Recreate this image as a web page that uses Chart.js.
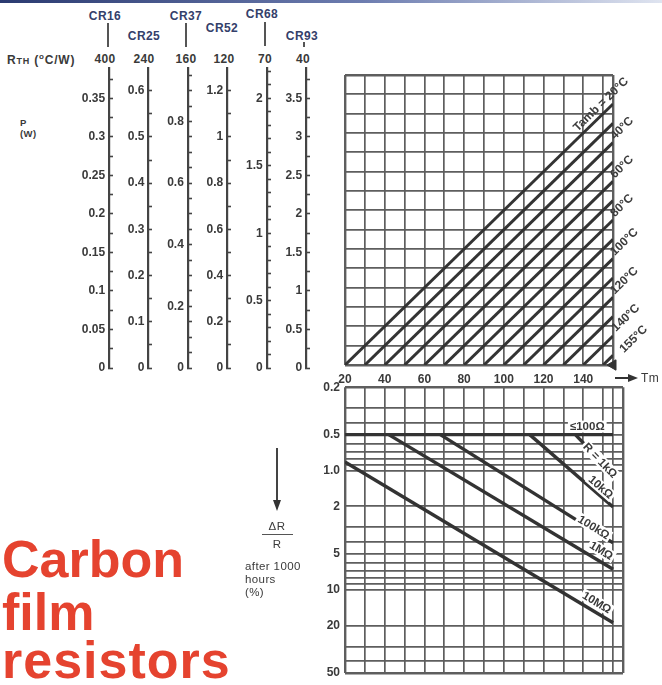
<!DOCTYPE html>
<html>
<head>
<meta charset="utf-8">
<script src="https://cdn.jsdelivr.net/npm/chart.js@4/dist/chart.umd.min.js"></script>
<style>
  body { margin: 0; background: #fff; }
  #page { position: relative; width: 662px; height: 685px; overflow: hidden; background: #fff;
          font-family: 'Liberation Sans', Arial, Helvetica, sans-serif; color: #3a3a3a; }
  canvas { position: absolute; }
  .t { position: absolute; font-weight: bold; font-size: 12px; line-height: 1; white-space: nowrap; letter-spacing: 0.4px; }
  .c { transform: translateX(-50%); }
  .cr { color: #34406a; }
  .vl { position: absolute; width: 1.5px; background: #555; }
  .big { position: absolute; left: 2px; color: #e5432f; font-weight: bold; font-size: 52px; line-height: 1; }
  .n { font-weight: normal; font-size: 11.5px; letter-spacing: 0.4px; }
</style>
</head>
<body>
<div id="page">
  <div style="position:absolute;left:0;top:0;width:662px;height:3px;background:linear-gradient(to right,#2a3a70,#6d7db0 55%,#dfe4f0)"></div>

  <!-- resistor types and thermal resistance -->
  <div class="t c cr" style="left:105px;top:10px">CR16</div>
  <div class="t c cr" style="left:144px;top:30px">CR25</div>
  <div class="t c cr" style="left:186px;top:10px">CR37</div>
  <div class="t c cr" style="left:222px;top:22px">CR52</div>
  <div class="t c cr" style="left:262px;top:8px">CR68</div>
  <div class="t c cr" style="left:302px;top:30px">CR93</div>
  <div class="vl" style="left:107px;top:23px;height:24px"></div>
  <div class="vl" style="left:185px;top:23px;height:24px"></div>
  <div class="vl" style="left:264px;top:22px;height:24px"></div>
  <div class="vl" style="left:303px;top:42px;height:5px"></div>
  <div class="t" style="left:7px;top:53px;letter-spacing:0.8px">R<span style="font-size:9px">TH</span> (<sup style="font-size:8px">o</sup>C/W)</div>
  <div class="t c" style="left:105px;top:53px">400</div>
  <div class="t c" style="left:144px;top:53px">240</div>
  <div class="t c" style="left:186px;top:53px">160</div>
  <div class="t c" style="left:224px;top:53px">120</div>
  <div class="t c" style="left:265px;top:53px">70</div>
  <div class="t c" style="left:303px;top:53px">40</div>
  <div class="t" style="left:20px;top:118px;font-size:9.5px">P</div>
  <div class="t" style="left:20px;top:129px;font-size:9.5px">(W)</div>

  <canvas id="scales" width="330" height="320" style="left:0;top:60px"></canvas>
  <canvas id="tmChart" width="332" height="330" style="left:330px;top:60px"></canvas>
  <canvas id="drChart" width="362" height="310" style="left:300px;top:375px"></canvas>

  <!-- Tm arrow -->
  <div style="position:absolute;left:615px;top:377px;width:14px;height:1.5px;background:#333"></div>
  <div style="position:absolute;left:628px;top:374px;width:0;height:0;border-top:4px solid transparent;border-bottom:4px solid transparent;border-left:10px solid #333"></div>
  <div class="t" style="left:641px;top:372px;font-size:12px;font-weight:normal">Tm</div>

  <!-- delta R / R legend -->
  <div style="position:absolute;left:276px;top:448px;width:1.5px;height:54px;background:#444"></div>
  <div style="position:absolute;left:272.5px;top:500px;width:0;height:0;border-left:4.5px solid transparent;border-right:4.5px solid transparent;border-top:11px solid #333"></div>
  <div class="t c n" style="left:277px;top:521px">ΔR</div>
  <div style="position:absolute;left:262px;top:534px;width:31px;height:1.2px;background:#555"></div>
  <div class="t c n" style="left:277px;top:539px">R</div>
  <div class="t n" style="left:245px;top:561px">after 1000</div>
  <div class="t n" style="left:245px;top:574px">hours</div>
  <div class="t n" style="left:245px;top:587px">(%)</div>

  <div class="big" style="top:533px">Carbon</div>
  <div class="big" style="top:586px">film</div>
  <div class="big" style="top:634px;letter-spacing:1px">resistors</div>
</div>

<script>
// left power scales
const typeNames = ['CR16', 'CR25', 'CR37', 'CR52', 'CR68', 'CR93'];
const rthValues = [400, 240, 160, 120, 70, 40];
const powerLabelStep = [0.05, 0.1, 0.2, 0.2, 0.5, 0.5];
const powerMinorStep = [0.025, 0.05, 0.05, 0.1, 0.1, 0.25];

// upper grid: film temperature Tm against temperature rise
const tmGridTop = [20, 30, 40, 50, 60, 70, 80, 90, 100, 110, 120, 130, 140, 150, 155];
const tmLabelValues = [20, 40, 60, 80, 100, 120, 140];
const tambValues = [20, 30, 40, 50, 60, 70, 80, 90, 100, 110, 120, 130, 140, 150];
const tambRiseAtEdge = [135, 125, 115, 105, 95, 85, 75, 65, 55, 45, 35, 25, 15, 5];
const tmEdge = 155;
const tambLabelValues = [20, 40, 60, 80, 100, 120, 140, 155];

// lower grid: drift after 1000 hours (%)
const tmGridBottom = [20, 30, 40, 50, 60, 70, 80, 90, 100, 110, 120, 130, 140, 150, 155, 160];
const drGrid = [0.2, 0.3, 0.4, 0.5, 0.6, 0.7, 0.8, 0.9, 1, 2, 3, 4, 5, 6, 7, 8, 9, 10, 20, 30, 40, 50];
const drLabelValues = [0.2, 0.5, 1, 2, 5, 10, 20, 50];
const drLabelText = ['0.2', '0.5', '1.0', '2', '5', '10', '20', '50'];
const resNames = ['≤100Ω', 'R = 1kΩ', '10kΩ', '100kΩ', '1MΩ', '10MΩ'];
const resTmStart = [20, 136, 113, 68, 42, 20];
const resDrStart = [0.5, 0.5, 0.5, 0.5, 0.5, 0.85];
const resTmEnd = [155, 155, 155, 155, 155, 155];
const resDrEnd = [0.5, 1.07, 2.03, 4.06, 6.76, 19];

const fontFam = "'Liberation Sans', Arial, Helvetica, sans-serif";
Chart.defaults.font.family = fontFam;
Chart.defaults.color = '#3a3a3a';

const gridColor = '#5e5e5e';
const lineColor = '#333333';

// ---------- left: the six P scales ----------
// temperature rise at the top of the scales, same vertical scale as the grid
const leftTopRise = 155.8;
const labelShift = 0.1;
const leftScales = { x: { type: 'linear', min: 0, max: 5, display: false } };
rthValues.forEach((rth, i) => {
  const max = leftTopRise / rth;
  leftScales['yl' + i] = {
    type: 'linear', axis: 'y', position: { x: i }, min: 0, max: max,
    border: { display: true, color: '#444', width: 2.2 },
    grid: { display: true, drawOnChartArea: false, drawTicks: true, tickLength: -5, tickWidth: 1.6, tickColor: '#444' },
    ticks: { display: false, stepSize: powerMinorStep[i], includeBounds: false, autoSkip: false }
  };
  leftScales['yt' + i] = {
    type: 'linear', axis: 'y', position: { x: i - labelShift }, min: 0, max: max,
    border: { display: false },
    grid: { display: false },
    ticks: {
      stepSize: powerLabelStep[i], includeBounds: false, autoSkip: false, padding: 0,
      color: '#3a3a3a', font: { size: 12, weight: 'bold' },
      callback: v => String(+v.toFixed(3))
    }
  };
});

new Chart(document.getElementById('scales'), {
  type: 'scatter',
  data: { datasets: [] },
  options: {
    responsive: false, animation: false,
    layout: { padding: { left: 109, right: 24, top: 8, bottom: 12 } },
    plugins: { legend: { display: false }, tooltip: { enabled: false } },
    scales: leftScales
  }
});

// ---------- upper grid ----------
const edgeWidth = c => (c.index === 0 || c.index === c.scale.ticks.length - 1) ? 2.4 : 1.7;

const tambDatasets = tambValues.map((t, k) => ({
  tamb: t,
  data: [{ x: t, y: 0 }, { x: tmEdge, y: tambRiseAtEdge[k] }],
  showLine: true, borderColor: lineColor, borderWidth: 3, pointRadius: 0
}));
tambDatasets.push({
  tamb: 155,
  data: [{ x: tmEdge, y: 0 }],
  pointStyle: 'triangle', rotation: -90, pointRadius: 6,
  backgroundColor: '#333', borderColor: '#333', clip: false
});

const tambLabelShift = [0, 3, 3, 3, 3, 3, 5, 16];
const tambLabels = {
  id: 'tambLabels',
  afterDatasetsDraw(chart) {
    const ctx = chart.ctx;
    const ref = chart.getDatasetMeta(0).data;
    const ang = Math.atan2(ref[1].y - ref[0].y, ref[1].x - ref[0].x);
    ctx.save();
    ctx.font = 'bold 12px ' + fontFam;
    ctx.fillStyle = '#3c3c3c';
    ctx.textBaseline = 'middle';
    ctx.textAlign = 'left';
    tambLabelValues.forEach((t, k) => {
      const di = chart.data.datasets.findIndex(d => d.tamb === t);
      const pts = chart.getDatasetMeta(di).data;
      const end = pts[pts.length - 1];
      const text = t + '°C';
      ctx.save();
      ctx.translate(end.x, end.y);
      ctx.rotate(ang);
      if (k === 0) {
        const pre = 'Tamb = ';
        ctx.fillText(pre + text, tambLabelShift[k] - ctx.measureText(pre).width, -8);
      } else {
        ctx.fillText(text, tambLabelShift[k], -4);
      }
      ctx.restore();
    });
    ctx.restore();
  }
};

new Chart(document.getElementById('tmChart'), {
  type: 'scatter',
  data: { datasets: tambDatasets },
  options: {
    responsive: false, animation: false,
    layout: { padding: { left: 15, right: 49, top: 15, bottom: 0 } },
    plugins: { legend: { display: false }, tooltip: { enabled: false } },
    scales: {
      x: {
        type: 'linear', min: 20, max: tmEdge,
        afterBuildTicks: s => { s.ticks = tmGridTop.map(v => ({ value: v })); },
        afterFit: s => { s.height = 25; },
        border: { display: false },
        grid: { color: gridColor, lineWidth: edgeWidth, drawTicks: false },
        ticks: {
          padding: 7, autoSkip: false, maxRotation: 0, color: '#3a3a3a', font: { size: 12, weight: 'bold' },
          callback: v => tmLabelValues.includes(v) ? String(v) : ''
        }
      },
      y: {
        type: 'linear', min: 0, max: 150,
        afterFit: s => { s.width = 0; },
        border: { display: false },
        grid: { color: gridColor, lineWidth: edgeWidth, drawTicks: false },
        ticks: { display: false, stepSize: 10 }
      }
    }
  },
  plugins: [tambLabels]
});

// ---------- lower grid ----------
const resDatasets = resNames.map((name, k) => ({
  label: name,
  data: [{ x: resTmStart[k], y: resDrStart[k] }, { x: resTmEnd[k], y: resDrEnd[k] }],
  showLine: true, borderColor: lineColor, borderWidth: 3.4, pointRadius: 0
}));

const resLabelTm = [142, 148.5, 146.5, 144.5, 146.5, 144.5];
const resLabelOffset = [-8, 0, -7, -3, -10, -9];
const resLabels = {
  id: 'resLabels',
  afterDatasetsDraw(chart) {
    const ctx = chart.ctx;
    const xs = chart.scales.x;
    ctx.save();
    ctx.font = 'bold 11.5px ' + fontFam;
    ctx.textBaseline = 'middle';
    ctx.textAlign = 'center';
    resNames.forEach((name, k) => {
      const pts = chart.getDatasetMeta(k).data;
      const p0 = pts[0], p1 = pts[1];
      const x = xs.getPixelForValue(resLabelTm[k]);
      const f = (x - p0.x) / (p1.x - p0.x);
      const y = p0.y + f * (p1.y - p0.y);
      const ang = Math.atan2(p1.y - p0.y, p1.x - p0.x);
      const w = ctx.measureText(name).width;
      ctx.save();
      ctx.translate(x, y);
      ctx.rotate(ang);
      ctx.translate(0, resLabelOffset[k]);
      ctx.fillStyle = '#fff';
      ctx.fillRect(-w / 2 - 2, -6, w + 4, 12);
      ctx.fillStyle = '#3a3a3a';
      ctx.fillText(name, 0, 0.5);
      ctx.restore();
    });
    ctx.restore();
  }
};

new Chart(document.getElementById('drChart'), {
  type: 'scatter',
  data: { datasets: resDatasets },
  options: {
    responsive: false, animation: false,
    layout: { padding: { left: 0, right: 39, top: 10, bottom: 10 } },
    plugins: { legend: { display: false }, tooltip: { enabled: false } },
    scales: {
      x: {
        type: 'linear', min: 20, max: 160,
        afterBuildTicks: s => { s.ticks = tmGridBottom.map(v => ({ value: v })); },
        afterFit: s => { s.height = 0; },
        border: { display: false },
        grid: { color: gridColor, lineWidth: edgeWidth, drawTicks: false },
        ticks: { display: false }
      },
      y: {
        type: 'logarithmic', min: 0.2, max: 50, reverse: true,
        afterBuildTicks: s => { s.ticks = drGrid.map(v => ({ value: v })); },
        afterFit: s => { s.width = 45; },
        border: { display: false },
        grid: { color: gridColor, lineWidth: edgeWidth, drawTicks: false },
        ticks: {
          padding: 5, autoSkip: false, color: '#3a3a3a', font: { size: 12, weight: 'bold' },
          callback: v => { const k = drLabelValues.indexOf(v); return k < 0 ? '' : drLabelText[k]; }
        }
      }
    }
  },
  plugins: [resLabels]
});
</script>
</body>
</html>
